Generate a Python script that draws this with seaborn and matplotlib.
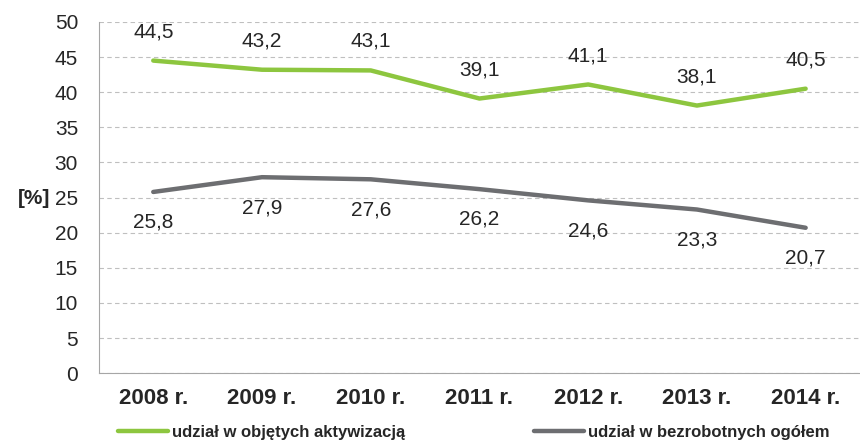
import seaborn as sns
import matplotlib.pyplot as plt
import pandas as pd

years = ["2008 r.", "2009 r.", "2010 r.", "2011 r.", "2012 r.", "2013 r.", "2014 r."]
aktywizacja = [44.5, 43.2, 43.1, 39.1, 41.1, 38.1, 40.5]
ogolem = [25.8, 27.9, 27.6, 26.2, 24.6, 23.3, 20.7]
series_names = ["udział w objętych aktywizacją", "udział w bezrobotnych ogółem"]

sns.set_style("white")
plt.rcParams['font.family'] = ['Liberation Sans', 'DejaVu Sans']

df = pd.DataFrame({
    "rok": years * 2,
    "wartosc": aktywizacja + ogolem,
    "seria": [series_names[0]] * len(years) + [series_names[1]] * len(years),
})

fig = plt.figure(figsize=(8.6, 4.48), dpi=100)
ax = fig.add_axes([0.115, 0.167, 0.885, 0.784])
ax = sns.lineplot(data=df, x="rok", y="wartosc", hue="seria",
                  palette=["#8DC63F", "#6D6E71"], linewidth=3.2, ax=ax, sort=False)

# etykiety danych: zielone nad linia, szare pod linia
for i, v in enumerate(aktywizacja):
    ax.annotate(f"{v:.1f}".replace(".", ","), (i, v), xytext=(0, 14),
                textcoords="offset points", ha="center", va="bottom", fontsize=15)
for i, v in enumerate(ogolem):
    ax.annotate(f"{v:.1f}".replace(".", ","), (i, v), xytext=(0, -15),
                textcoords="offset points", ha="center", va="top", fontsize=15)

ax.set_ylim(0, 50)
ax.set_xlim(-0.5, 6.5)
ax.set_yticks(range(0, 51, 5))
ax.yaxis.grid(True, linestyle=(0, (4, 3)), color="#BFBFBF", linewidth=0.8)
ax.tick_params(axis="y", labelsize=15, length=0, pad=15)
ax.tick_params(axis="x", labelsize=16, length=0, pad=11)
for lbl in ax.get_xticklabels():
    lbl.set_fontweight("bold")
ax.set_xlabel("")
ax.set_ylabel("[%]", rotation=0, fontsize=15, fontweight="bold", va="center")
ax.yaxis.set_label_coords(-0.085, 0.497)
for s in ["top", "right"]:
    ax.spines[s].set_visible(False)
for s in ["left", "bottom"]:
    ax.spines[s].set_color("#A6A6A6")

# dwie osobne legendy, zeby ustawic je jak w oryginale
handles, labels = ax.get_legend_handles_labels()
ax.get_legend().remove()
leg_kw = dict(frameon=False, fontsize=12, handlelength=3.0, handletextpad=0.25,
              borderpad=0, borderaxespad=0, loc="center left")
leg1 = ax.legend(handles[:1], labels[:1], bbox_to_anchor=(0.025, -0.168), **leg_kw)
ax.add_artist(leg1)
leg2 = ax.legend(handles[1:], labels[1:], bbox_to_anchor=(0.572, -0.168), **leg_kw)
for leg in (leg1, leg2):
    for t in leg.get_texts():
        t.set_fontweight("bold")

fig.savefig("out.png", dpi=100)
